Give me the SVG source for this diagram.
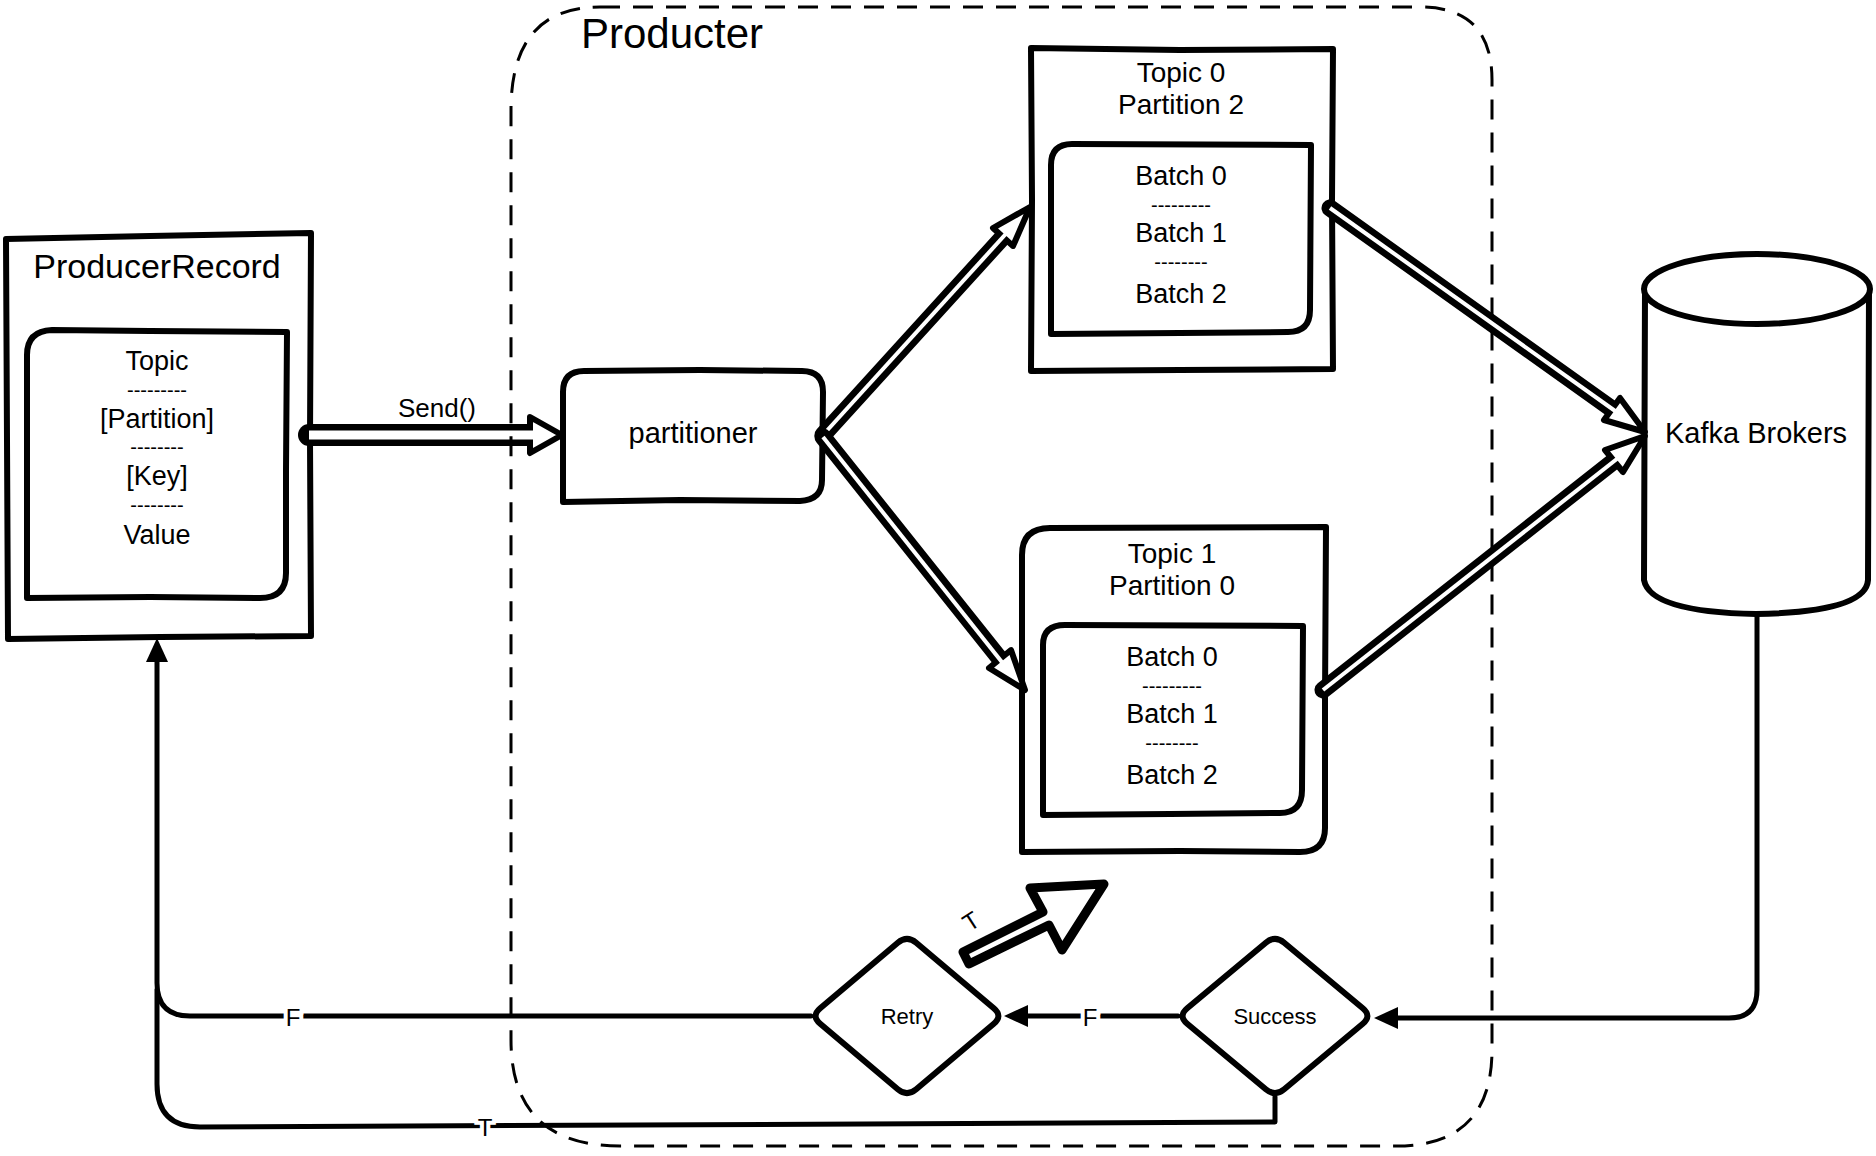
<svg xmlns="http://www.w3.org/2000/svg" width="1876" height="1156" viewBox="0 0 1876 1156">
<defs>
<style>
.box{fill:#fff;stroke:#000;stroke-width:6;stroke-linejoin:round;stroke-linecap:round}
.t{font-family:"Liberation Sans",Arial,sans-serif;fill:#000;text-anchor:middle;dominant-baseline:central}
.ln{fill:none;stroke:#000;stroke-width:5;stroke-linecap:round;stroke-linejoin:round}
.dash{fill:none;stroke:#000;stroke-width:3;stroke-dasharray:20 13}
.dbo{fill:none;stroke:#000;stroke-width:17;stroke-linecap:round}
.dbi{fill:none;stroke:#fff;stroke-width:4}
.head{fill:#fff;stroke:#000;stroke-width:6;stroke-linejoin:round}
.lbl{paint-order:stroke;stroke:#fff;stroke-width:8}
</style>
<marker id="arr" viewBox="0 0 24 22" refX="12" refY="11" markerWidth="24" markerHeight="22" markerUnits="userSpaceOnUse" orient="auto"><path d="M0,0 L24,11 L0,22 Z" fill="#000"/></marker>
</defs>
<rect width="1876" height="1156" fill="#fff"/>

<g id="producerRecord">
<path class="box" d="M6,239 L150,236 L311,233 L310,440 L311,636 L160,637 L8,639 L7,440 Z"/>
<text class="t" x="157" y="266" font-size="34">ProducerRecord</text>
<path class="box" d="M27,598 L27,355 Q27,331 52,330 L150,331 L287,332 L286,470 L286,573 Q286,598 260,598 L150,597 Z"/>
<text class="t" x="157" y="361" font-size="27">Topic</text>
<text class="t" x="157" y="390" font-size="20">---------</text>
<text class="t" x="157" y="419" font-size="27">[Partition]</text>
<text class="t" x="157" y="447" font-size="20">--------</text>
<text class="t" x="157" y="476" font-size="27">[Key]</text>
<text class="t" x="157" y="505" font-size="20">--------</text>
<text class="t" x="157" y="535" font-size="27">Value</text>
</g>

<g id="partitioner">
<path class="box" d="M563,502 L563,392 Q563,371 584,371 L700,370 L802,371 Q823,371 823,392 L822,480 Q822,500 800,501 L680,500 Z"/>
<text class="t" x="693" y="433" font-size="29">partitioner</text>
</g>

<g id="topic0">
<path class="box" d="M1031,48 L1180,50 L1333,49 L1332,200 L1333,369 L1180,370 L1031,371 L1032,200 Z"/>
<text class="t" x="1181" y="72" font-size="28">Topic 0</text>
<text class="t" x="1181" y="104" font-size="28">Partition 2</text>
<path class="box" d="M1051,334 L1051,165 Q1051,144 1072,144 L1311,145 L1310,310 Q1310,332 1288,332 L1180,333 Z"/>
<text class="t" x="1181" y="176" font-size="27">Batch 0</text>
<text class="t" x="1181" y="205" font-size="20">---------</text>
<text class="t" x="1181" y="233" font-size="27">Batch 1</text>
<text class="t" x="1181" y="262" font-size="20">--------</text>
<text class="t" x="1181" y="294" font-size="27">Batch 2</text>
</g>

<g id="topic1">
<path class="box" d="M1022,852 L1022,555 Q1022,528 1050,528 L1326,527 L1325,700 L1325,828 Q1325,852 1300,852 L1180,851 Z"/>
<text class="t" x="1172" y="553" font-size="28">Topic 1</text>
<text class="t" x="1172" y="585" font-size="28">Partition 0</text>
<path class="box" d="M1043,815 L1043,645 Q1043,625 1065,625 L1303,626 L1302,790 Q1302,813 1280,813 L1170,814 Z"/>
<text class="t" x="1172" y="657" font-size="27">Batch 0</text>
<text class="t" x="1172" y="686" font-size="20">---------</text>
<text class="t" x="1172" y="714" font-size="27">Batch 1</text>
<text class="t" x="1172" y="743" font-size="20">--------</text>
<text class="t" x="1172" y="775" font-size="27">Batch 2</text>
</g>

<g id="kafkaBrokers">
<path class="box" d="M1645,290 L1644,580 Q1650,612 1756,614 Q1866,612 1868,580 L1869,290 Z" style="stroke:none"/>
<path class="box" style="fill:none" d="M1645,290 L1644,580 Q1650,612 1756,614 Q1866,612 1868,580 L1869,290"/>
<ellipse class="box" cx="1757" cy="289" rx="113" ry="35"/>
<text class="t" x="1756" y="433" font-size="29">Kafka Brokers</text>
</g>

<g id="retry">
<path class="box" d="M897.8,942.7 Q907,935 916.2,942.7 L993.8,1008.3 Q1003,1016 993.8,1023.7 L916.2,1089.3 Q907,1097 897.8,1089.3 L820.2,1023.7 Q811,1016 820.2,1008.3 Z"/>
<text class="t" x="907" y="1016" font-size="22">Retry</text>
</g>

<g id="success">
<path class="box" d="M1265.8,942.7 Q1275,935 1284.2,942.7 L1362.8,1008.3 Q1372,1016 1362.8,1023.7 L1284.2,1089.3 Q1275,1097 1265.8,1089.3 L1187.2,1023.7 Q1178,1016 1187.2,1008.3 Z"/>
<text class="t" x="1275" y="1016" font-size="22">Success</text>
</g>

<g id="connectors">
<!-- Send() -->
<path class="dbo" style="stroke-width:22" d="M309,435 L532,435"/>
<polygon class="head" points="530,417 562,435 530,453"/>
<path class="dbi" style="stroke-width:9" d="M309,435 L545,435"/>
<text class="t" x="437" y="408" font-size="26">Send()</text>
<!-- partitioner -> topic0 -->
<path class="dbo" d="M823,435 L1003,237"/>
<polygon class="head" points="993,228 1030,207 1013,246"/>
<path class="dbi" d="M823,435 L1013,226"/>
<!-- partitioner -> topic1 -->
<path class="dbo" d="M823,437 L1000,659"/>
<polygon class="head" points="989,668 1025,690 1011,650"/>
<path class="dbi" d="M823,437 L1009,671"/>
<!-- topic0 -> kafka -->
<path class="dbo" d="M1330,208 L1612,409"/>
<polygon class="head" points="1604,420 1645,432 1620,398"/>
<path class="dbi" d="M1330,208 L1625,418"/>
<!-- topic1 -> kafka -->
<path class="dbo" d="M1323,690 L1614,461"/>
<polygon class="head" points="1605,450 1645,436 1623,472"/>
<path class="dbi" d="M1323,690 L1627,451"/>
<!-- kafka -> success -->
<path class="ln" marker-end="url(#arr)" d="M1757,614 L1757,990 Q1757,1018 1729,1018 L1386,1018"/>
<!-- success -> retry (F) -->
<path class="ln" marker-end="url(#arr)" d="M1178,1016 L1016,1016"/>
<text class="t lbl" x="1090" y="1017" font-size="24">F</text>
<!-- retry -> producerRecord (F) -->
<path class="ln" marker-end="url(#arr)" d="M811,1016 L190,1016 Q157,1016 157,983 L157,650"/>
<text class="t lbl" x="293" y="1017" font-size="24">F</text>
<!-- success -> producerRecord (T) -->
<path class="ln" d="M1275,1097 L1275,1122 L200,1127 Q157,1127 157,1084 L157,990"/>
<text class="t lbl" x="485" y="1127" font-size="24">T</text>
<!-- retry -> topic (T) -->
<polygon class="head" style="stroke-width:9" points="963,952 1043,912 1030,888 1104,884 1062,950 1049,925 969,964"/>
<text class="t" x="971" y="921" font-size="24" transform="rotate(-33 971 921)">T</text>
</g>

<g id="producter">
<path class="dash" d="M600,7 L1420,7 Q1492,7 1492,80 L1492,1050 Q1492,1146 1396,1146 L620,1146 Q511,1146 511,1040 L511,110 Q511,7 600,7 Z"/>
<text class="t" x="672" y="33" font-size="42">Producter</text>
</g>
</svg>
